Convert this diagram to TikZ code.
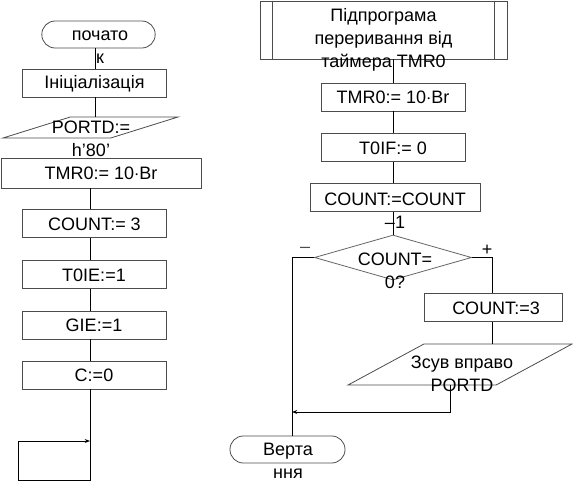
\documentclass[tikz,border=0pt]{standalone}
\usepackage{fontspec}
\setmainfont{Liberation Sans}
\usetikzlibrary{shapes.geometric,arrows.meta}

\begin{document}
\begin{tikzpicture} [x = 0.75pt, y = -0.75pt, line width = 0.6pt,
    blk/.style = {draw = black!70, rectangle, minimum width = 108pt, minimum height = 21pt, inner sep = 0pt},
    term/.style = {draw = black!70, rectangle, rounded corners = 10pt, minimum width = 85pt, minimum height = 20.25pt, inner sep = 0pt},
    io/.style = {draw = black!70, trapezium, trapezium stretches = true, inner sep = 1pt},
    txt/.style = {align = center, font = \fontsize{13.5}{17.25}\selectfont, inner sep = 0pt},
    flow/.style = {-{Stealth[length = 4pt, width = 3pt]}}]
                \useasboundingbox (0,0) rectangle (573,481);
                \coordinate (axisT) at (95,0);
                \coordinate (axisL) at (90,0);
                \coordinate (axisR) at (393,0);
                % main program
                \node[term] (start) at (98.5,34.5) {};
                \node[blk] (init) at (94,83) {};
                \node[io, trapezium left angle = 31, trapezium right angle = 149, minimum width = 131.25pt, minimum height = 15.75pt] (portd) at (90.5,127.5) {};
                \node[blk, minimum width = 150pt, minimum height = 22.5pt] (tmrL) at (101,173) {};
                \node[blk] (cnt) at (94,223.5) {};
                \node[blk] (toie) at (94,274.5) {};
                \node[blk] (gie) at (94,325) {};
                \node[blk] (clr) at (94,375) {};
                \coordinate (loopA) at (90,480);
                \coordinate (loopB) at (18,480);
                \coordinate (loopC) at (18,441);
                \coordinate (loopD) at (90,441);
                \node[txt] (startT) at (100,47) {почато\\к};
                \node[txt] (initT) at (94.5,84) {Ініціалізація};
                \node[txt] (portdT) at (91,139) {PORTD:=\\h'80'};
                \node[txt] (tmrLT) at (101,173) {TMR0:= 10$\cdot$Br};
                \node[txt] (cntT) at (94.5,224) {COUNT:= 3};
                \node[txt] (toieT) at (94,275) {T0IE:=1};
                \node[txt] (gieT) at (94,325.5) {GIE:=1};
                \node[txt] (clrT) at (94,375.5) {C:=0};
                \draw (start.south -| axisT) -- (init.north -| axisT);
                \draw (init.south -| axisT) -- (portd.north -| axisT);
                \foreach \a/\b in {tmrL/cnt, cnt/toie, toie/gie, gie/clr}
                  \draw (\a.south -| axisL) -- (\b.north -| axisL);
                \draw[flow] (clr.south -| axisL) -- (loopA) -- (loopB) -- (loopC) -- (loopD);
                % interrupt routine
                \node[draw = black!70, rectangle, minimum width = 185.25pt, minimum height = 43.5pt, inner sep = 0pt] (sub) at (383.5,30) {};
                \draw[black!70] ([xshift = 9.75pt]sub.north west) -- ([xshift = 9.75pt]sub.south west);
                \draw[black!70] ([xshift = -9.75pt]sub.north east) -- ([xshift = -9.75pt]sub.south east);
                \node[blk] (tmrR) at (393,97) {};
                \node[blk] (toif) at (393,147.5) {};
                \node[blk, minimum width = 127.5pt] (cntdec) at (395,197.5) {};
                \node[draw = black!60, diamond, minimum width = 117.75pt, minimum height = 33.75pt, inner sep = 1pt] (zero) at (393,257.5) {};
                \node[blk, minimum width = 103.5pt] (cntset) at (493,307.5) {};
                \node[io, trapezium left angle = 43.6, trapezium right angle = 136.4, minimum width = 168pt, minimum height = 30.75pt] (shift) at (460,364.5) {};
                \node[term, minimum width = 86.25pt] (ret) at (287.5,449.5) {};
                \coordinate (minusX) at (292,0);
                \coordinate (plusX) at (492,0);
                \coordinate (shiftX) at (450,0);
                \coordinate (backY) at (0,412);
                \node[txt] (subT) at (383.5,39.5) {Підпрограма\\переривання від\\таймера TMR0};
                \node[txt] (tmrRT) at (393,97) {TMR0:= 10$\cdot$Br};
                \node[txt] (toifT) at (393,148) {T0IF:= 0};
                \node[txt] (cntdecT) at (395,211) {COUNT:=COUNT\\–1};
                \node[txt] (zeroT) at (395,271) {COUNT=\\0?};
                \node[txt] (cntsetT) at (496,308) {COUNT:=3};
                \node[txt] (shiftT) at (462,374) {Зсув вправо\\PORTD};
                \node[txt] (retT) at (288,461) {Верта\\ння};
                \node[txt, text = black!70] (minus) at (305,250) {–};
                \node[txt] (plus) at (487,250) {+};
                \draw (sub.south -| axisR) -- (tmrR.north -| axisR);
                \foreach \a/\b in {tmrR/toif, toif/cntdec, cntdec/zero}
                  \draw (\a.south -| axisR) -- (\b.north -| axisR);
                \draw (zero.west) -- (zero.west -| minusX) -- (ret.north -| minusX);
                \draw (zero.east) -- (zero.east -| plusX) -- (cntset.north -| plusX);
                \draw (cntset.south -| plusX) -- (shift.north -| plusX);
                \draw[flow] (shift.south -| shiftX) -- (backY -| shiftX) -- (backY -| minusX);
            \end{tikzpicture}
\end{document}
